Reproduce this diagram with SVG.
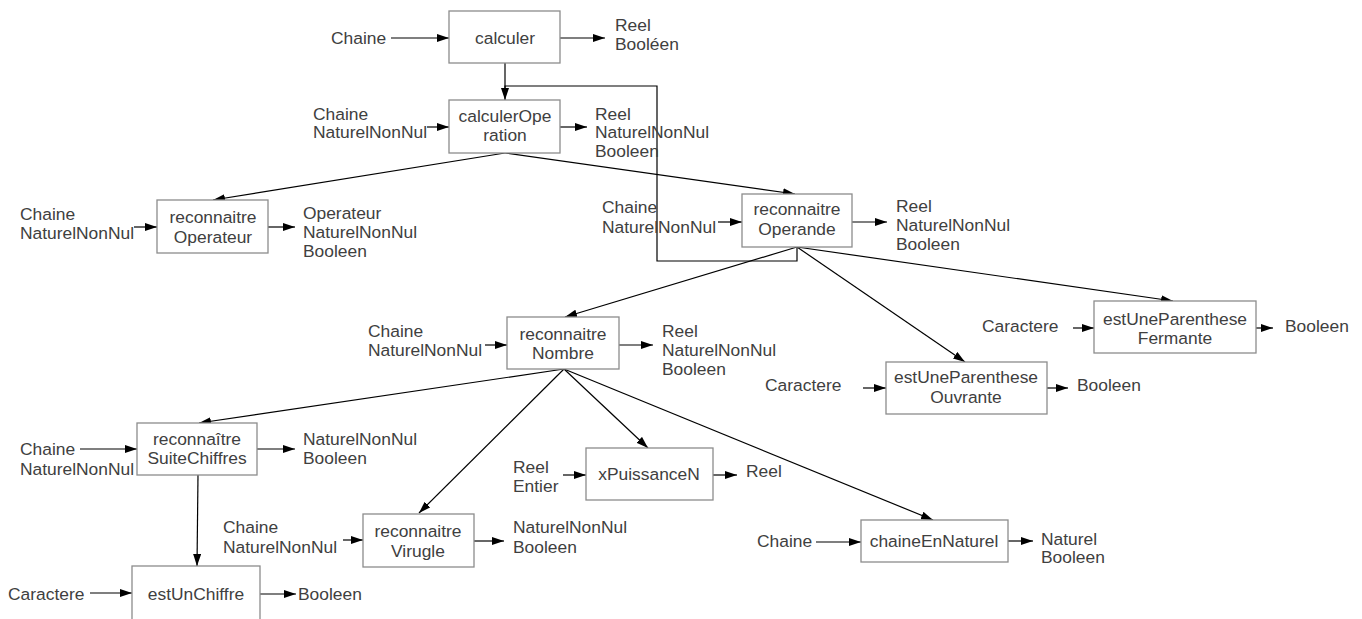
<svg xmlns="http://www.w3.org/2000/svg" width="1362" height="619" viewBox="0 0 1362 619">
<style>
.box{fill:#fff;stroke:#8c8c8c;stroke-width:1.3}
.t{font-family:"Liberation Sans",Arial,sans-serif;font-size:17.4px;fill:#404040}
.c{text-anchor:middle}
.ln{stroke:#000;stroke-width:1.2;fill:none}
.a{stroke:#000;stroke-width:1.2;fill:none;marker-end:url(#ah)}
</style>
<defs>
<marker id="ah" markerUnits="userSpaceOnUse" markerWidth="12" markerHeight="8" refX="12" refY="4" orient="auto">
<path d="M0,0 L12,4 L0,8 z" fill="#000"/>
</marker>
</defs>
<rect width="1362" height="619" fill="#fff"/>
<g id="connectors">
<line class="a" x1="391" y1="38" x2="449" y2="38"/>
<line class="a" x1="560" y1="38" x2="605" y2="38"/>
<line class="a" x1="505" y1="63" x2="505" y2="100"/>
<polyline class="ln" points="797,247 797,261 657,261 657,86 505,86 505,96"/>
<line class="a" x1="427" y1="127" x2="449" y2="127"/>
<line class="a" x1="560" y1="127" x2="587" y2="127"/>
<line class="a" x1="505" y1="153" x2="213" y2="200"/>
<line class="a" x1="505" y1="153" x2="795" y2="194"/>
<line class="a" x1="134" y1="227" x2="157" y2="227"/>
<line class="a" x1="268" y1="227" x2="295" y2="227"/>
<line class="a" x1="718" y1="222" x2="742" y2="222"/>
<line class="a" x1="852" y1="222" x2="887" y2="222"/>
<line class="a" x1="797" y1="247" x2="565" y2="317"/>
<line class="a" x1="797" y1="247" x2="965" y2="362"/>
<line class="a" x1="797" y1="247" x2="1173" y2="301"/>
<line class="a" x1="485" y1="345" x2="507" y2="345"/>
<line class="a" x1="619" y1="345" x2="653" y2="345"/>
<line class="a" x1="1073" y1="328" x2="1094" y2="328"/>
<line class="a" x1="1256" y1="328" x2="1273" y2="328"/>
<line class="a" x1="863" y1="388" x2="886" y2="388"/>
<line class="a" x1="1047" y1="388" x2="1068" y2="388"/>
<line class="a" x1="564" y1="369" x2="199" y2="423"/>
<line class="a" x1="564" y1="369" x2="419" y2="513"/>
<line class="a" x1="564" y1="369" x2="648" y2="448"/>
<line class="a" x1="564" y1="369" x2="933" y2="520"/>
<line class="a" x1="80" y1="449" x2="137" y2="449"/>
<line class="a" x1="257" y1="449" x2="295" y2="449"/>
<line class="a" x1="198" y1="475" x2="197" y2="566"/>
<line class="a" x1="90" y1="593" x2="132" y2="593"/>
<line class="a" x1="260" y1="594" x2="296" y2="594"/>
<line class="a" x1="343" y1="540" x2="363" y2="540"/>
<line class="a" x1="474" y1="541" x2="504" y2="541"/>
<line class="a" x1="563" y1="475" x2="586" y2="475"/>
<line class="a" x1="713" y1="475" x2="737" y2="475"/>
<line class="a" x1="816" y1="542" x2="861" y2="542"/>
<line class="a" x1="1008" y1="541" x2="1033" y2="541"/>
</g>
<g id="calculer">
<rect class="box" x="449" y="11" width="111" height="52"/>
<text class="t c" x="505" y="44">calculer</text>
<text class="t" x="331" y="44">Chaine</text>
<text class="t" x="615" y="31">Reel</text>
<text class="t" x="615" y="50">Booléen</text>
</g>
<g id="calculerOperation">
<rect class="box" x="449" y="100" width="111" height="53"/>
<text class="t c" x="505" y="122">calculerOpe</text>
<text class="t c" x="505" y="141">ration</text>
<text class="t" x="313" y="120">Chaine</text>
<text class="t" x="313" y="138">NaturelNonNul</text>
<text class="t" x="595" y="120">Reel</text>
<text class="t" x="595" y="138">NaturelNonNul</text>
<text class="t" x="595" y="157">Booleen</text>
</g>
<g id="reconnaitreOperateur">
<rect class="box" x="157" y="200" width="111" height="53"/>
<text class="t c" x="213" y="223">reconnaitre</text>
<text class="t c" x="213" y="243">Operateur</text>
<text class="t" x="20" y="220">Chaine</text>
<text class="t" x="20" y="239">NaturelNonNul</text>
<text class="t" x="303" y="219">Operateur</text>
<text class="t" x="303" y="238">NaturelNonNul</text>
<text class="t" x="303" y="257">Booleen</text>
</g>
<g id="reconnaitreOperande">
<rect class="box" x="742" y="194" width="110" height="53"/>
<text class="t c" x="797" y="215">reconnaitre</text>
<text class="t c" x="797" y="235">Operande</text>
<text class="t" x="602" y="213">Chaine</text>
<text class="t" x="602" y="233">NaturelNonNul</text>
<text class="t" x="896" y="212">Reel</text>
<text class="t" x="896" y="231">NaturelNonNul</text>
<text class="t" x="896" y="250">Booleen</text>
</g>
<g id="reconnaitreNombre">
<rect class="box" x="507" y="317" width="112" height="52"/>
<text class="t c" x="563" y="340">reconnaitre</text>
<text class="t c" x="563" y="359">Nombre</text>
<text class="t" x="368" y="337">Chaine</text>
<text class="t" x="368" y="356">NaturelNonNul</text>
<text class="t" x="662" y="337">Reel</text>
<text class="t" x="662" y="356">NaturelNonNul</text>
<text class="t" x="662" y="375">Booleen</text>
</g>
<g id="estUneParentheseFermante">
<rect class="box" x="1094" y="301" width="162" height="52"/>
<text class="t c" x="1175" y="325">estUneParenthese</text>
<text class="t c" x="1175" y="344">Fermante</text>
<text class="t" x="982" y="332">Caractere</text>
<text class="t" x="1285" y="332">Booleen</text>
</g>
<g id="estUneParentheseOuvrante">
<rect class="box" x="886" y="362" width="161" height="52"/>
<text class="t c" x="966" y="383">estUneParenthese</text>
<text class="t c" x="966" y="403">Ouvrante</text>
<text class="t" x="765" y="391">Caractere</text>
<text class="t" x="1077" y="391">Booleen</text>
</g>
<g id="reconnaitreSuiteChiffres">
<rect class="box" x="137" y="423" width="120" height="52"/>
<text class="t c" x="197" y="445">reconnaître</text>
<text class="t c" x="197" y="464">SuiteChiffres</text>
<text class="t" x="20" y="455">Chaine</text>
<text class="t" x="20" y="475">NaturelNonNul</text>
<text class="t" x="303" y="445">NaturelNonNul</text>
<text class="t" x="303" y="464">Booleen</text>
</g>
<g id="estUnChiffre">
<rect class="box" x="132" y="566" width="128" height="70"/>
<text class="t c" x="196" y="600">estUnChiffre</text>
<text class="t" x="8" y="600">Caractere</text>
<text class="t" x="298" y="600">Booleen</text>
</g>
<g id="reconnaitreVirugle">
<rect class="box" x="363" y="514" width="111" height="53"/>
<text class="t c" x="418" y="537">reconnaitre</text>
<text class="t c" x="418" y="557">Virugle</text>
<text class="t" x="223" y="533">Chaine</text>
<text class="t" x="223" y="553">NaturelNonNul</text>
<text class="t" x="513" y="533">NaturelNonNul</text>
<text class="t" x="513" y="553">Booleen</text>
</g>
<g id="xPuissanceN">
<rect class="box" x="586" y="448" width="127" height="52"/>
<text class="t c" x="649" y="480">xPuissanceN</text>
<text class="t" x="513" y="473">Reel</text>
<text class="t" x="513" y="492">Entier</text>
<text class="t" x="746" y="477">Reel</text>
</g>
<g id="chaineEnNaturel">
<rect class="box" x="861" y="520" width="147" height="42"/>
<text class="t c" x="934" y="547">chaineEnNaturel</text>
<text class="t" x="757" y="547">Chaine</text>
<text class="t" x="1041" y="545">Naturel</text>
<text class="t" x="1041" y="563">Booleen</text>
</g>
</svg>
